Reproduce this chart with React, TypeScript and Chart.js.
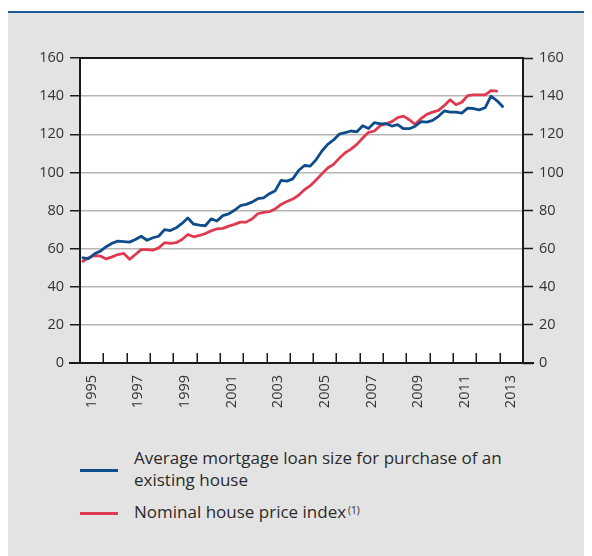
import React, { useEffect, useRef } from 'react';
import { Chart, registerables } from 'chart.js';

Chart.register(...registerables);

// Quarterly data starting 1995 Q1
const startYear = 1995;
const endYear = 2014;
const labelYears = [1995, 1997, 1999, 2001, 2003, 2005, 2007, 2009, 2011, 2013];
const yTickValues = [0, 20, 40, 60, 80, 100, 120, 140, 160];

const mortgageLoanSize = [
  55.2, 54.8, 57.3, 58.7, 61.0, 62.8, 63.9, 63.7, 63.4, 64.8, 66.5, 64.4, 65.7, 66.5, 70.0, 69.5,
  70.9, 73.2, 76.1, 72.8, 72.3, 72.0, 75.6, 74.5, 77.3, 78.2, 80.1, 82.5, 83.2, 84.4, 86.2, 86.6,
  88.8, 90.4, 95.8, 95.4, 96.6, 101.0, 103.6, 103.3, 106.6, 111.2, 114.7, 117.0, 120.1, 120.9, 121.7, 121.3,
  124.5, 123.0, 126.1, 125.4, 125.5, 124.3, 125.0, 122.9, 122.9, 124.2, 126.6, 126.4, 127.3, 129.4, 132.2, 131.6,
  131.6, 131.1, 133.7, 133.5, 132.8, 133.9, 140.0, 137.7, 134.6,
];

const housePriceIndex = [
  53.4, 55.2, 56.4, 56.1, 54.6, 55.7, 56.9, 57.5, 54.4, 56.9, 59.5, 59.5, 59.2, 60.4, 63.1, 62.7,
  63.1, 64.8, 67.4, 66.2, 66.9, 67.9, 69.3, 70.4, 70.6, 71.8, 72.7, 73.9, 73.9, 75.5, 78.3, 79.0,
  79.4, 80.8, 83.2, 84.7, 86.0, 88.0, 90.9, 93.0, 96.0, 99.2, 102.3, 104.2, 107.5, 110.3, 112.2, 114.7,
  118.0, 121.0, 121.7, 124.5, 125.5, 126.6, 128.7, 129.5, 127.6, 125.2, 128.2, 130.4, 131.6, 132.5, 135.1, 138.1,
  135.5, 136.8, 140.3, 140.7, 140.7, 140.7, 142.9, 142.6,
];

const seriesNames = [
  'Average mortgage loan size for purchase of an existing house',
  'Nominal house price index',
];

const BLUE = '#0f4c8c';
const RED = '#e03a50';
const TEXT = '#333333';
const FONT = '"Open Sans", "Noto Sans", sans-serif';

const toPoints = (vals: number[]) =>
  vals.map((v, i) => ({ x: startYear + (i + 0.5) / 4, y: v }));

const framePlugin = {
  id: 'frame',
  beforeDraw(chart: any) {
    const { ctx, chartArea } = chart;
    ctx.save();
    ctx.fillStyle = '#ffffff';
    ctx.fillRect(chartArea.left, chartArea.top, chartArea.right - chartArea.left, chartArea.bottom - chartArea.top);
    ctx.restore();
  },
  afterDatasetsDraw(chart: any) {
    const { ctx, chartArea } = chart;
    const xs = chart.scales.x;
    ctx.save();
    ctx.strokeStyle = '#1a1a1a';
    ctx.lineWidth = 2;
    ctx.beginPath();
    ctx.moveTo(chartArea.left, chartArea.bottom);
    ctx.lineTo(chartArea.left, chartArea.top);
    ctx.lineTo(chartArea.right, chartArea.top);
    ctx.lineTo(chartArea.right, chartArea.bottom);
    ctx.stroke();
    ctx.beginPath();
    ctx.moveTo(chartArea.left - 11, chartArea.bottom);
    ctx.lineTo(chartArea.right + 11, chartArea.bottom);
    ctx.stroke();
    ctx.lineWidth = 1.5;
    ctx.beginPath();
    for (let y = startYear + 1; y < endYear; y++) {
      const px = Math.round(xs.getPixelForValue(y)) + 0.25;
      ctx.moveTo(px, chartArea.bottom);
      ctx.lineTo(px, chartArea.bottom - 10);
    }
    ctx.stroke();
    ctx.restore();
  },
};

export default function App() {
  const ref = useRef<HTMLCanvasElement | null>(null);

  useEffect(() => {
    if (!ref.current) return;
    const tickFont = { family: FONT, size: 14.5 };
    const chart = new Chart(ref.current, {
      type: 'line',
      data: {
        datasets: [
          {
            label: seriesNames[0],
            data: toPoints(mortgageLoanSize),
            borderColor: BLUE,
            borderWidth: 2.8,
            pointRadius: 0,
            tension: 0,
            yAxisID: 'y',
          },
          {
            label: seriesNames[1],
            data: toPoints(housePriceIndex),
            borderColor: RED,
            borderWidth: 2.8,
            pointRadius: 0,
            tension: 0,
            yAxisID: 'y',
          },
        ],
      },
      options: {
        animation: false,
        responsive: false,
        maintainAspectRatio: false,
        layout: { padding: { top: 44, left: 0, right: 0, bottom: 0 } },
        plugins: { legend: { display: false }, tooltip: { enabled: false } },
        elements: { line: { borderJoinStyle: 'round', borderCapStyle: 'round' } },
        scales: {
          x: {
            type: 'linear',
            min: startYear,
            max: endYear,
            position: 'bottom',
            afterBuildTicks: (s: any) => {
              s.ticks = labelYears.map((y) => ({ value: y + 0.5 }));
            },
            afterFit: (s: any) => {
              s.height = 61;
            },
            ticks: {
              autoSkip: false,
              minRotation: 90,
              maxRotation: 90,
              padding: 12,
              color: TEXT,
              font: tickFont,
              callback: (v: any) => String(Math.floor(Number(v))),
            },
            grid: { display: false, drawTicks: false },
            border: { display: false },
          },
          y: {
            position: 'left',
            min: 0,
            max: 160,
            afterBuildTicks: (s: any) => {
              s.ticks = yTickValues.map((v) => ({ value: v }));
            },
            afterFit: (s: any) => {
              s.width = 72;
            },
            ticks: { padding: 6, color: TEXT, font: tickFont },
            grid: {
              color: (c: any) =>
                c.tick && (c.tick.value === 0 || c.tick.value === 160) ? 'rgba(0,0,0,0)' : '#b5b5b5',
              lineWidth: 1.5,
              tickColor: '#1a1a1a',
              tickLength: 10,
              tickWidth: 1.5,
            },
            border: { display: false },
          },
          y2: {
            position: 'right',
            min: 0,
            max: 160,
            afterBuildTicks: (s: any) => {
              s.ticks = yTickValues.map((v) => ({ value: v }));
            },
            afterFit: (s: any) => {
              s.width = 69;
            },
            ticks: { padding: 6, color: TEXT, font: tickFont },
            grid: {
              drawOnChartArea: false,
              tickColor: '#1a1a1a',
              tickLength: 10,
              tickWidth: 1.5,
            },
            border: { display: false },
          },
        },
      } as any,
      plugins: [framePlugin],
    });
    return () => chart.destroy();
  }, []);

  const legendText: React.CSSProperties = {
    position: 'absolute',
    left: 126,
    fontFamily: FONT,
    fontSize: 17,
    lineHeight: '22px',
    color: '#2b2b2b',
    whiteSpace: 'nowrap',
  };

  return (
    <div style={{ position: 'relative', width: 584, height: 548, background: '#ffffff' }}>
      <div style={{ position: 'absolute', left: 0, top: 3, width: 584, height: 2, background: '#1f5c9e' }} />
      <div style={{ position: 'absolute', left: 0, top: 5, width: 584, height: 543, background: '#e3e3e3' }} />
      <canvas
        ref={ref}
        width={584}
        height={410}
        style={{ position: 'absolute', left: 0, top: 6, width: 584, height: 410 }}
      />
      <div style={{ position: 'absolute', left: 72, top: 461, width: 38, height: 2.5, background: BLUE }} />
      <div style={{ ...legendText, top: 438.5 }}>
        Average mortgage loan size for purchase of an
        <br />
        existing house
      </div>
      <div style={{ position: 'absolute', left: 72, top: 504, width: 38, height: 2.5, background: RED }} />
      <div style={{ ...legendText, top: 492.5 }}>
        Nominal house price index
        <sup style={{ fontSize: 10, verticalAlign: 'top', position: 'relative', top: -2, marginLeft: 2 }}>(1)</sup>
      </div>
    </div>
  );
}
